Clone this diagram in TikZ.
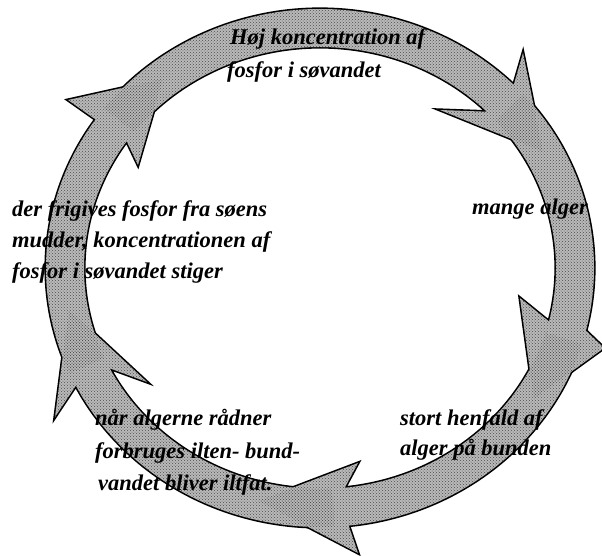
\documentclass[tikz,border=0pt]{standalone}
\usepackage{fontspec}
\setmainfont{Liberation Serif}
\usetikzlibrary{calc,patterns}
\newcommand\ringseg[5]{($(C)+(#1:274pt and 259pt)$) arc[start angle=#1, end angle=#2, x radius=274pt, y radius=259pt] -- (#4) -- ($(C)+(#3:255pt and 240pt)$) -- (#5) -- ($(C)+(#2:236pt and 221pt)$) arc[start angle=#2, end angle=#1, x radius=236pt, y radius=221pt] -- cycle}
\newcommand\allsegs[1]{%
  \path[#1] \ringseg{142}{45}{29}{ao}{ai};
  \path[#1] \ringseg{42}{-14}{-33}{bo}{bi};
  \path[#1] \ringseg{-17}{-84}{-104}{co}{ci};
  \path[#1] \ringseg{-87}{-153}{-170}{do}{di};
  \path[#1] \ringseg{-156}{-215}{-232}{eo}{ei};
}
\begin{document}
\begin{tikzpicture}[x=1pt,y=1pt,
  lbl/.style={font=\bfseries\itshape\fontsize{22.5}{27}\selectfont, anchor=base west, inner sep=0pt}]
\useasboundingbox (0,0) rectangle (602,555);
\coordinate (C) at (320,287);
\coordinate (ao) at (523,502);
\coordinate (ai) at (440,445);
\coordinate (bo) at (604,207);
\coordinate (bi) at (520,257);
\coordinate (ci) at (358,92);
\coordinate (co) at (358,2);
\coordinate (do) at (55,138);
\coordinate (di) at (147,173);
\coordinate (eo) at (68,455);
\coordinate (ei) at (138,390);
\allsegs{draw=black, line width=3.2pt, line join=miter, fill=white}
\allsegs{fill=gray!55}
\allsegs{pattern=crosshatch dots, pattern color=black!70}
% labels
\node[lbl] (t1a) at (230,510) {Høj koncentration af};
\node[lbl] (t1b) at (227,477) {fosfor i søvandet};
\node[lbl] (t2) at (472,340) {mange alger};
\node[lbl] (t3a) at (12,338) {der frigives fosfor fra søens};
\node[lbl] (t3b) at (12,308) {mudder, koncentrationen af};
\node[lbl] (t3c) at (12,277) {fosfor i søvandet stiger};
\node[lbl] (t4a) at (95,130) {når algerne rådner};
\node[lbl] (t4b) at (95,97) {forbruges ilten- bund-};
\node[lbl] (t4c) at (98,65) {vandet bliver iltfat.};
\node[lbl] (t5a) at (400,130) {stort henfald af};
\node[lbl] (t5b) at (400,100) {alger på bunden};
\end{tikzpicture}
\end{document}
